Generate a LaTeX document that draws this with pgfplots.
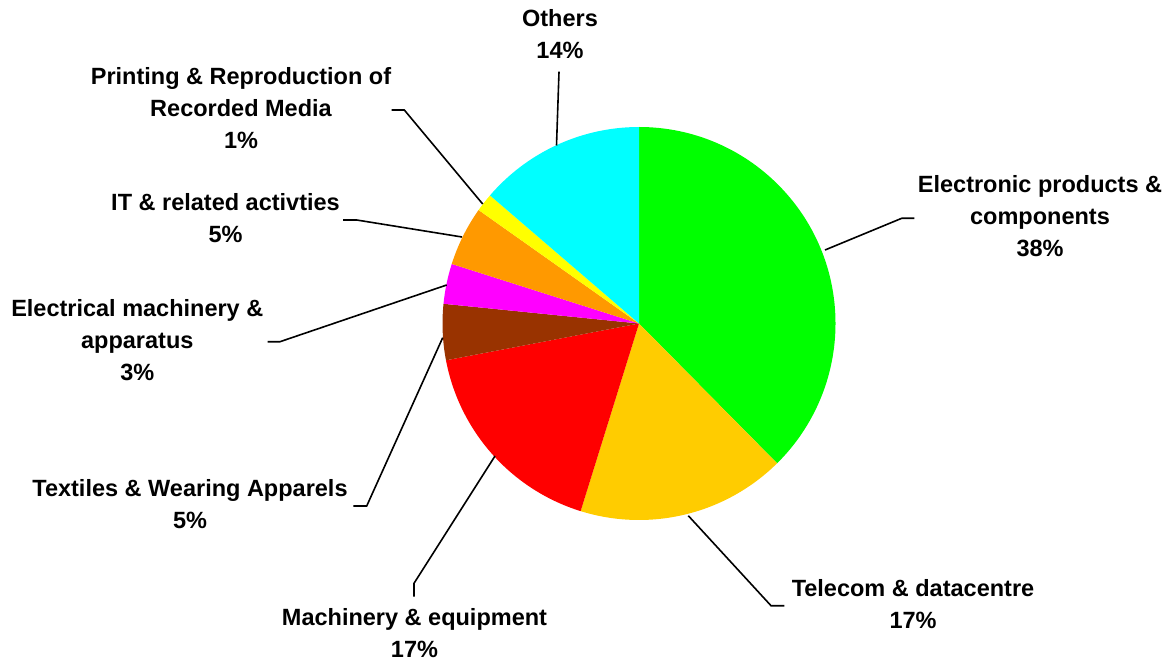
\documentclass[border=0pt]{standalone}
\usepackage{pgfplots}
\pgfplotsset{compat=1.18}
\usepackage{pgfplotstable}
\usepackage{fontspec}
\setmainfont{Liberation Sans}
\definecolor{cGreen}{HTML}{00FF00}
\definecolor{cTel}{HTML}{FFCC00}
\definecolor{cMach}{HTML}{FF0000}
\definecolor{cText}{HTML}{993300}
\definecolor{cElec}{HTML}{FF00FF}
\definecolor{cIT}{HTML}{FF9900}
\definecolor{cPrint}{HTML}{FFFF00}
\definecolor{cOth}{HTML}{00FFFF}

% shares (percent), clockwise from 12 o'clock
\pgfplotstableread{
share colour
37.6 cGreen
17.2 cTel
17.2 cMach
4.6 cText
3.3 cElec
4.9 cIT
1.5 cPrint
13.7 cOth
}\piedata

\begin{document}
\begin{tikzpicture}
\tikzset{lbl/.style={anchor=base, inner sep=0pt, font=\fontsize{11.75}{16}\selectfont\bfseries},
  ldr/.style={line width=0.8pt}}
\begin{axis}[
  width=582.5pt, height=331pt, scale only axis,
  xmin=0, xmax=1165, ymin=0, ymax=662, y dir=reverse,
  hide axis, clip=false]
\def\cum{0}
\pgfplotsforeachungrouped \i in {0,...,7}{%
  \pgfplotstablegetelem{\i}{share}\of\piedata \let\v\pgfplotsretval
  \pgfplotstablegetelem{\i}{colour}\of\piedata \let\c\pgfplotsretval
  \pgfmathsetmacro\a{90-3.6*\cum}%
  \pgfmathsetmacro\newcum{\cum+\v}%
  \pgfmathsetmacro\b{90-3.6*\newcum}%
  \let\cum\newcum
  \edef\temp{\noexpand\fill[\c] (axis cs:639,323.5) -- ([shift={(\a:98.25pt)}]axis cs:639,323.5) arc[start angle=\a, end angle=\b, radius=98.25pt] -- cycle;}%
  \temp
}
% leader lines
\draw[ldr] (axis cs:559,71.7) -- (axis cs:556.5,145.5);
\draw[ldr] (axis cs:391.7,110) -- (axis cs:404.3,110) -- (axis cs:482.7,204);
\draw[ldr] (axis cs:343,220) -- (axis cs:356.7,220) -- (axis cs:462,237);
\draw[ldr] (axis cs:267.7,341.7) -- (axis cs:280,341.7) -- (axis cs:446.7,285);
\draw[ldr] (axis cs:353.3,506) -- (axis cs:366.7,506) -- (axis cs:442.7,337.7);
\draw[ldr] (axis cs:414,596.7) -- (axis cs:414,583.3) -- (axis cs:495,456);
\draw[ldr] (axis cs:784.3,605.7) -- (axis cs:771,605.7) -- (axis cs:688.3,515.7);
\draw[ldr] (axis cs:914.3,218.3) -- (axis cs:901.7,218.3) -- (axis cs:825,250);
% labels
\node[lbl] at (axis cs:560,27) {Others};
\node[lbl] at (axis cs:560,59) {14\%};
\node[lbl] at (axis cs:241,85) {Printing \& Reproduction of};
\node[lbl] at (axis cs:241,117) {Recorded Media};
\node[lbl] at (axis cs:241,149) {1\%};
\node[lbl] at (axis cs:225.5,211) {IT \& related activties};
\node[lbl] at (axis cs:225.5,243) {5\%};
\node[lbl] at (axis cs:137.3,316.7) {Electrical machinery \&};
\node[lbl] at (axis cs:137.3,348.7) {apparatus};
\node[lbl] at (axis cs:137.3,380.7) {3\%};
\node[lbl] at (axis cs:190,496.7) {Textiles \& Wearing Apparels};
\node[lbl] at (axis cs:190,528.7) {5\%};
\node[lbl] at (axis cs:414.5,625) {Machinery \& equipment};
\node[lbl] at (axis cs:414.5,657) {17\%};
\node[lbl] at (axis cs:913,596) {Telecom \& datacentre};
\node[lbl] at (axis cs:913,628) {17\%};
\node[lbl] at (axis cs:1040,192.7) {Electronic products \&};
\node[lbl] at (axis cs:1040,224.7) {components};
\node[lbl] at (axis cs:1040,256.7) {38\%};
\end{axis}
\pgfresetboundingbox
\path (current axis.south west) rectangle (current axis.north east);
\end{tikzpicture}
\end{document}
